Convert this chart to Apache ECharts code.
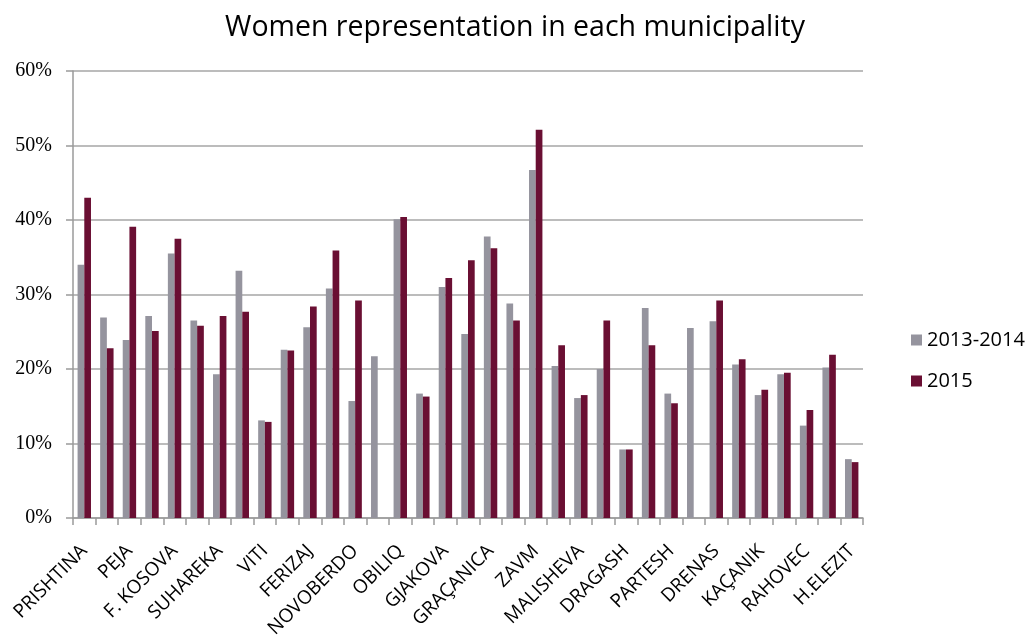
<!DOCTYPE html>
<html>
<head>
<meta charset="utf-8">
<title>Women representation in each municipality</title>
<script src="https://cdn.jsdelivr.net/npm/echarts@6/dist/echarts.min.js"></script>
<style>
  html, body { margin: 0; padding: 0; background: #fff; }
  #main { width: 1030px; height: 643px; }
</style>
</head>
<body>
<div id="main"></div>
<script>
// municipalities (only every other name is printed on the axis)
const municipalities = [
    'PRISHTINA', 'PRIZREN', 'PEJA', 'MITROVICA', 'F. KOSOVA', 'GJILAN', 'SUHAREKA',
    'PODUJEVA', 'VITI', 'VUSHTRRIA', 'FERIZAJ', 'LIPJAN', 'NOVOBERDO', 'SKENDERAJ',
    'OBILIQ', 'KAMENICA', 'GJAKOVA', 'ISTOG', 'GRAÇANICA', 'DEÇAN', 'ZAVM', 'KLINA',
    'MALISHEVA', 'SHTIME', 'DRAGASH', 'JUNIK', 'PARTESH', 'MAMUSHA', 'DRENAS',
    'SHTËRPCA', 'KAÇANIK', 'KLLOKOT', 'RAHOVEC', 'RANILLUG', 'H.ELEZIT'
];

// share of women, in %
const share2013_2014 = [
    34.0, 26.9, 23.9, 27.1, 35.5, 26.5, 19.3, 33.2, 13.1, 22.6, 25.6, 30.8,
    15.7, 21.7, 40.1, 16.7, 31.0, 24.7, 37.8, 28.8, 46.7, 20.4, 16.1, 20.0,
    9.2, 28.2, 16.7, 25.5, 26.4, 20.6, 16.5, 19.3, 12.4, 20.2, 7.9
];
const share2015 = [
    43.0, 22.8, 39.1, 25.1, 37.5, 25.8, 27.1, 27.7, 12.9, 22.5, 28.4, 35.9,
    29.2, null, 40.4, 16.3, 32.2, 34.6, 36.2, 26.5, 52.1, 23.2, 16.5, 26.5,
    9.2, 23.2, 15.4, null, 29.2, 21.3, 17.2, 19.5, 14.5, 21.9, 7.5
];

const yTicks = [0, 10, 20, 30, 40, 50, 60];

const chart = echarts.init(document.getElementById('main'));

chart.setOption({
    backgroundColor: '#fff',
    animation: false,
    title: {
        text: 'Women representation in each municipality',
        left: 'center',
        top: 8,
        textStyle: {
            fontFamily: 'Open Sans',
            fontSize: 28.5,
            fontWeight: 'normal',
            color: '#000'
        }
    },
    legend: {
        orient: 'vertical',
        left: 906,
        top: 325,
        itemWidth: 11,
        itemHeight: 11,
        itemGap: 21,
        icon: 'rect',
        textStyle: {
            fontFamily: 'Open Sans',
            fontSize: 20,
            color: '#000'
        },
        data: ['2013-2014', '2015']
    },
    grid: {
        left: 73,
        top: 71,
        width: 790,
        height: 447
    },
    xAxis: {
        type: 'category',
        data: municipalities,
        boundaryGap: true,
        axisLine: { lineStyle: { color: '#9a9a9a', width: 1.5 } },
        axisTick: { show: true, interval: 0, length: 7, lineStyle: { color: '#9a9a9a', width: 1.5 } },
        axisLabel: {
            interval: 1,
            rotate: 45,
            margin: 30,
            fontFamily: 'Open Sans',
            fontSize: 19,
            color: '#000'
        }
    },
    yAxis: {
        type: 'value',
        min: yTicks[0],
        max: yTicks[yTicks.length - 1],
        interval: 10,
        axisLine: { show: true, lineStyle: { color: '#9a9a9a', width: 1.5 } },
        axisTick: { show: true, length: 7, lineStyle: { color: '#9a9a9a', width: 1.5 } },
        splitLine: { lineStyle: { color: '#a6a6a6', width: 1.5 } },
        axisLabel: {
            formatter: '{value}%',
            margin: 21,
            fontFamily: 'Liberation Serif',
            fontSize: 20,
            color: '#000'
        }
    },
    series: [
        {
            name: '2013-2014',
            type: 'bar',
            data: share2013_2014,
            barWidth: 6.7,
            barGap: '0%',
            itemStyle: { color: '#95949e' }
        },
        {
            name: '2015',
            type: 'bar',
            data: share2015,
            barWidth: 6.7,
            itemStyle: { color: '#6a0f33' }
        }
    ]
});
</script>
</body>
</html>
